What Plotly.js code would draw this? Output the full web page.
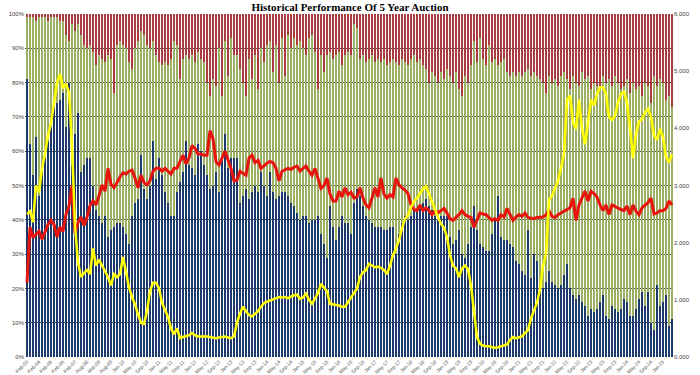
<!DOCTYPE html>
<html>
<head>
<meta charset="utf-8">
<script src="https://cdn.plot.ly/plotly-3.0.1.min.js"></script>
<style>
  html, body { margin: 0; padding: 0; background: #ffffff; }
  #chart { width: 700px; height: 375px; }
</style>
</head>
<body>
<div id="chart"></div>
<script>
// Share of each auction (percent), bottom to top of the stack
const indirectShare = [
  81, 62, 53, 64, 47, 56, 58, 63, 68, 74,
  74, 75, 77, 67, 80, 56, 65, 71, 54, 56,
  58, 58, 50, 43, 41, 39, 41, 35, 37, 38,
  39, 39, 38, 36, 33, 41, 45, 46, 59, 49,
  46, 50, 63, 52, 58, 53, 48, 45, 41, 41,
  48, 51, 54, 63, 56, 55, 53, 62, 60, 56,
  53, 49, 50, 54, 48, 58, 65, 55, 58, 58,
  58, 45, 47, 49, 46, 48, 50, 48, 54, 50,
  47, 54, 48, 46, 47, 48, 48, 47, 45, 44,
  42, 40, 41, 41, 39, 40, 40, 41, 36, 33,
  29, 44, 38, 34, 38, 41, 39, 39, 36, 45,
  49, 47, 44, 41, 40, 39, 38, 38, 38, 37,
  37, 38, 38, 30, 36, 39, 41, 40, 41, 43,
  43, 44, 45, 46, 44, 43, 41, 40, 41, 41,
  41, 35, 33, 34, 37, 30, 29, 33, 38, 44,
  37, 33, 32, 31, 31, 36, 40, 47, 35, 34,
  34, 33, 32, 28, 27, 25, 24, 37, 23, 30,
  28, 21, 20, 22, 25, 22, 21, 20, 21, 24,
  27, 20, 18, 17, 18, 16, 15, 12, 14, 13,
  14, 16, 18, 12, 11, 15, 14, 13, 14, 17,
  16, 12, 12, 14, 17, 19, 15, 19, 10, 8,
  21, 15, 16, 18, 9, 11
];
const directShare = [
  18, 37, 46, 34, 52, 43, 41, 35, 31, 25,
  25, 23, 21, 27, 12, 41, 30, 26, 40, 35,
  32, 33, 39, 42, 47, 48, 45, 53, 50, 39,
  52, 53, 53, 54, 53, 43, 45, 46, 36, 45,
  45, 40, 29, 36, 28, 32, 38, 40, 46, 51,
  43, 30, 33, 25, 31, 33, 33, 27, 27, 30,
  27, 27, 31, 25, 42, 18, 27, 27, 35, 30,
  30, 39, 33, 27, 41, 33, 38, 30, 36, 36,
  44, 38, 35, 45, 33, 45, 34, 47, 45, 49,
  49, 52, 49, 47, 54, 54, 49, 37, 52, 50,
  59, 45, 49, 54, 51, 44, 49, 50, 52, 52,
  47, 40, 44, 45, 47, 49, 48, 49, 48, 50,
  48, 48, 49, 56, 49, 48, 45, 45, 46, 45,
  43, 43, 40, 38, 36, 40, 41, 40, 42, 40,
  43, 47, 47, 49, 41, 46, 53, 47, 47, 48,
  49, 60, 55, 54, 60, 50, 47, 38, 51, 53,
  49, 49, 51, 54, 56, 57, 59, 47, 59, 53,
  54, 60, 60, 55, 57, 58, 60, 59, 61, 59,
  54, 58, 64, 63, 61, 67, 66, 70, 64, 67,
  65, 62, 64, 68, 70, 64, 68, 67, 64, 62,
  65, 65, 68, 64, 62, 57, 65, 60, 64, 74,
  58, 66, 64, 57, 67, 62
];
const dealerShare = [
  1, 1, 1, 2, 1, 1, 1, 2, 1, 1,
  1, 2, 2, 6, 8, 3, 5, 3, 6, 9,
  10, 9, 11, 15, 12, 13, 14, 12, 13, 23,
  9, 8, 9, 10, 14, 16, 10, 8, 5, 6,
  9, 10, 8, 12, 14, 15, 14, 15, 13, 8,
  9, 19, 13, 12, 13, 12, 14, 11, 13, 14,
  20, 24, 19, 21, 10, 24, 8, 18, 7, 12,
  12, 16, 20, 24, 13, 19, 12, 22, 10, 14,
  9, 8, 17, 9, 20, 7, 18, 6, 10, 7,
  9, 8, 10, 12, 7, 6, 11, 22, 12, 17,
  12, 11, 13, 12, 11, 15, 12, 11, 12, 3,
  4, 13, 12, 14, 13, 12, 14, 13, 14, 13,
  15, 14, 13, 14, 15, 13, 14, 15, 13, 12,
  14, 13, 15, 16, 20, 17, 18, 20, 17, 19,
  16, 18, 20, 17, 22, 24, 18, 20, 15, 8,
  14, 7, 13, 15, 9, 14, 13, 15, 14, 13,
  17, 18, 17, 18, 17, 18, 17, 16, 18, 17,
  18, 19, 20, 23, 18, 20, 19, 21, 18, 17,
  19, 22, 18, 20, 21, 17, 19, 18, 22, 20,
  21, 22, 18, 20, 19, 21, 18, 20, 22, 21,
  19, 23, 20, 22, 21, 24, 20, 21, 26, 18,
  21, 19, 20, 25, 24, 27
];
// Right axis series
const bidToCover = [
  1.3, 2.27, 2.09, 2.15, 2.2, 2.06, 2.2, 2.32, 2.39, 2.32,
  2.1, 2.27, 2.2, 2.5, 2.64, 3.0, 2.16, 2.35, 2.45, 2.3,
  2.45, 2.65, 2.73, 2.66, 2.82, 3.01, 2.9, 3.3, 3.02, 2.96,
  3.05, 3.15, 3.22, 3.2, 3.25, 3.27, 3.13, 2.96, 3.18, 3.05,
  3.01, 3.08, 3.25, 3.3, 3.3, 3.25, 3.3, 3.25, 3.2, 3.3,
  3.3, 3.42, 3.53, 3.38, 3.48, 3.7, 3.65, 3.55, 3.55, 3.53,
  3.53, 3.96, 3.82, 3.42, 3.36, 3.48, 3.6, 3.45, 3.3, 3.08,
  3.1, 3.25, 3.22, 3.18, 3.48, 3.53, 3.4, 3.44, 3.3, 3.35,
  3.39, 3.42, 3.4, 3.3, 3.08, 3.25, 3.28, 3.3, 3.28, 3.32,
  3.34, 3.25, 3.3, 3.34, 3.25, 3.18, 3.3, 3.1, 2.95, 3.0,
  3.13, 2.85, 2.73, 2.73, 2.9, 2.8, 2.96, 2.84, 2.88, 2.78,
  2.8, 2.96, 2.78, 2.66, 2.61, 2.78, 2.96, 2.8, 3.13, 2.85,
  2.78, 2.84, 2.8, 3.13, 3.01, 2.96, 2.92, 2.86, 2.66, 2.58,
  2.56, 2.66, 2.56, 2.61, 2.56, 2.49, 2.56, 2.52, 2.56, 2.6,
  2.52, 2.42, 2.39, 2.44, 2.49, 2.56, 2.49, 2.46, 2.44, 2.27,
  2.39, 2.52, 2.5, 2.49, 2.44, 2.39, 2.42, 2.39, 2.49, 2.45,
  2.6, 2.5, 2.39, 2.45, 2.49, 2.46, 2.52, 2.44, 2.43, 2.42,
  2.44, 2.44, 2.45, 2.49, 2.56, 2.46, 2.44, 2.49, 2.52, 2.56,
  2.58, 2.61, 2.78, 2.39, 2.66, 2.78, 2.9, 2.73, 2.9, 2.86,
  2.8, 2.66, 2.56, 2.66, 2.49, 2.66, 2.63, 2.61, 2.58, 2.56,
  2.64, 2.49, 2.66, 2.55, 2.49, 2.61, 2.66, 2.7, 2.78, 2.5,
  2.52, 2.56, 2.56, 2.6, 2.73, 2.66
];
const highYield = [
  2.5, 2.55, 2.36, 3.0, 2.88, 3.3, 3.55, 3.88, 4.08, 4.4,
  4.8, 4.95, 4.7, 4.78, 4.63, 3.7, 2.3, 1.65, 1.4, 1.47,
  1.52, 1.45, 1.9, 1.6, 1.7, 1.6, 1.5, 1.4, 1.25, 1.45,
  1.4, 1.45, 1.75, 1.45, 1.22, 1.05, 0.92, 0.75, 0.6, 0.58,
  0.8, 1.15, 1.3, 1.3, 1.2, 0.95, 0.82, 0.7, 0.5, 0.4,
  0.5, 0.33, 0.35, 0.36, 0.38, 0.42, 0.38, 0.36, 0.36, 0.37,
  0.36, 0.35, 0.34, 0.33, 0.34, 0.35, 0.36, 0.34, 0.33, 0.36,
  0.6, 0.76, 0.88, 0.8, 0.73, 0.71, 0.76, 0.8, 0.88, 0.94,
  0.97, 0.99, 1.0, 1.03, 1.05, 1.04, 1.05, 1.03, 1.06, 1.08,
  1.09, 1.02, 1.04, 1.11, 1.0, 0.93, 1.02, 1.12, 1.28, 1.22,
  1.15, 0.93, 0.92, 0.92, 0.9, 0.88, 0.88, 0.96, 1.05, 1.12,
  1.2, 1.4, 1.48, 1.52, 1.63, 1.6, 1.57, 1.58, 1.56, 1.52,
  1.45, 1.6, 1.78, 1.9, 2.04, 2.25, 2.42, 2.48, 2.62, 2.72,
  2.78, 2.86, 2.94, 2.99, 2.85, 2.7, 2.58, 2.45, 2.33, 2.26,
  2.1, 1.78, 1.6, 1.55, 1.4, 1.55, 1.6, 1.54, 1.25, 0.85,
  0.35, 0.23, 0.2, 0.19, 0.19, 0.17, 0.16, 0.17, 0.19, 0.2,
  0.22, 0.3, 0.35, 0.33, 0.34, 0.36, 0.42, 0.47, 0.68, 0.82,
  0.95, 1.18, 1.6, 1.8, 2.75, 2.82, 2.95, 3.08, 3.3, 3.55,
  4.5, 4.57, 4.1, 3.99, 4.5, 4.0, 3.72, 4.1, 4.5, 4.4,
  4.6, 4.72, 4.72, 4.6, 4.2, 4.15, 4.22, 4.45, 4.6, 4.64,
  4.45, 4.0, 3.48, 3.9, 4.12, 4.16, 4.28, 4.34, 4.2, 3.88,
  3.8, 3.99, 3.85, 3.5, 3.4, 3.55
];
// One date label for every 4th auction
const tickLabels = [
  "Feb-03","Feb-04","Feb-05","Feb-06","Feb-07","Aug-08","Mar-09","Aug-09",
  "Jan-10","May-10","Sep-10","Jan-11","May-11","Sep-11","Jan-12","May-12","Sep-12",
  "Jan-13","May-13","Sep-13","Jan-14","May-14","Sep-14","Jan-15","May-15","Sep-15",
  "Jan-16","May-16","Sep-16","Jan-17","May-17","Sep-17","Jan-18","May-18","Sep-18",
  "Jan-19","May-19","Sep-19","Jan-20","May-20","Sep-20","Jan-21","May-21","Sep-21",
  "Jan-22","May-22","Sep-22","Jan-23","May-23","Sep-23","Jan-24","May-24","Sep-24",
  "Jan-25"
];
const labelEvery = 4;

const auctionIdx = indirectShare.map((_, i) => i);
const tickVals = tickLabels.map((_, i) => i * labelEvery);
const nBars = auctionIdx.length;
// shift the category window by a sixth of a slot so bar edges land on whole pixels
const xShift = 1 / 6;

const traces = [
  { type: 'bar', x: auctionIdx, y: indirectShare, marker: { color: '#1c3a6c' }, name: 'Indirect', hoverinfo: 'skip' },
  { type: 'bar', x: auctionIdx, y: directShare, marker: { color: '#9bb064' }, name: 'Direct', hoverinfo: 'skip' },
  { type: 'bar', x: auctionIdx, y: dealerShare, marker: { color: '#ab3c44' }, name: 'Dealer', hoverinfo: 'skip' },
  { type: 'scatter', mode: 'lines', x: auctionIdx, y: bidToCover, yaxis: 'y2', line: { color: '#e8140c', width: 3 }, name: 'Bid to Cover', hoverinfo: 'skip' },
  { type: 'scatter', mode: 'lines', x: auctionIdx, y: highYield, yaxis: 'y2', line: { color: '#ffff00', width: 2.5 }, name: 'High Yield', hoverinfo: 'skip' }
];

const layout = {
  width: 700, height: 375,
  margin: { l: 25, r: 27, t: 14, b: 18 },
  paper_bgcolor: '#ffffff', plot_bgcolor: '#ffffff',
  showlegend: false,
  barmode: 'stack', bargap: 1 / 3,
  title: {
    text: '<b>Historical Performance Of 5 Year Auction</b>',
    font: { family: 'Liberation Serif', size: 11, color: '#000000' },
    x: 0.5, xanchor: 'center', y: 0.98, yref: 'container', yanchor: 'middle',
    pad: { t: 0, b: 0 }
  },
  xaxis: {
    range: [-0.5 - xShift, nBars - 0.5 - xShift],
    tickmode: 'array', tickvals: tickVals, ticktext: tickLabels,
    tickangle: -45, tickfont: { family: 'Liberation Sans', size: 5, color: '#555555' },
    showgrid: false, zeroline: false, showline: false, ticks: '', automargin: false
  },
  yaxis: {
    range: [0, 100], dtick: 10, ticksuffix: '%',
    tickfont: { family: 'Liberation Sans', size: 6, color: '#444444' },
    showgrid: true, gridcolor: '#4a4a4a', gridwidth: 1,
    zeroline: false, showline: false, ticks: '', automargin: false
  },
  yaxis2: {
    overlaying: 'y', side: 'right', range: [0, 6], dtick: 1, tickformat: '.3f',
    tickfont: { family: 'Liberation Sans', size: 6, color: '#444444' },
    showgrid: false, zeroline: false, showline: false, ticks: '', automargin: false
  }
};

Plotly.newPlot('chart', traces, layout, { displayModeBar: false, staticPlot: true });
</script>
</body>
</html>
